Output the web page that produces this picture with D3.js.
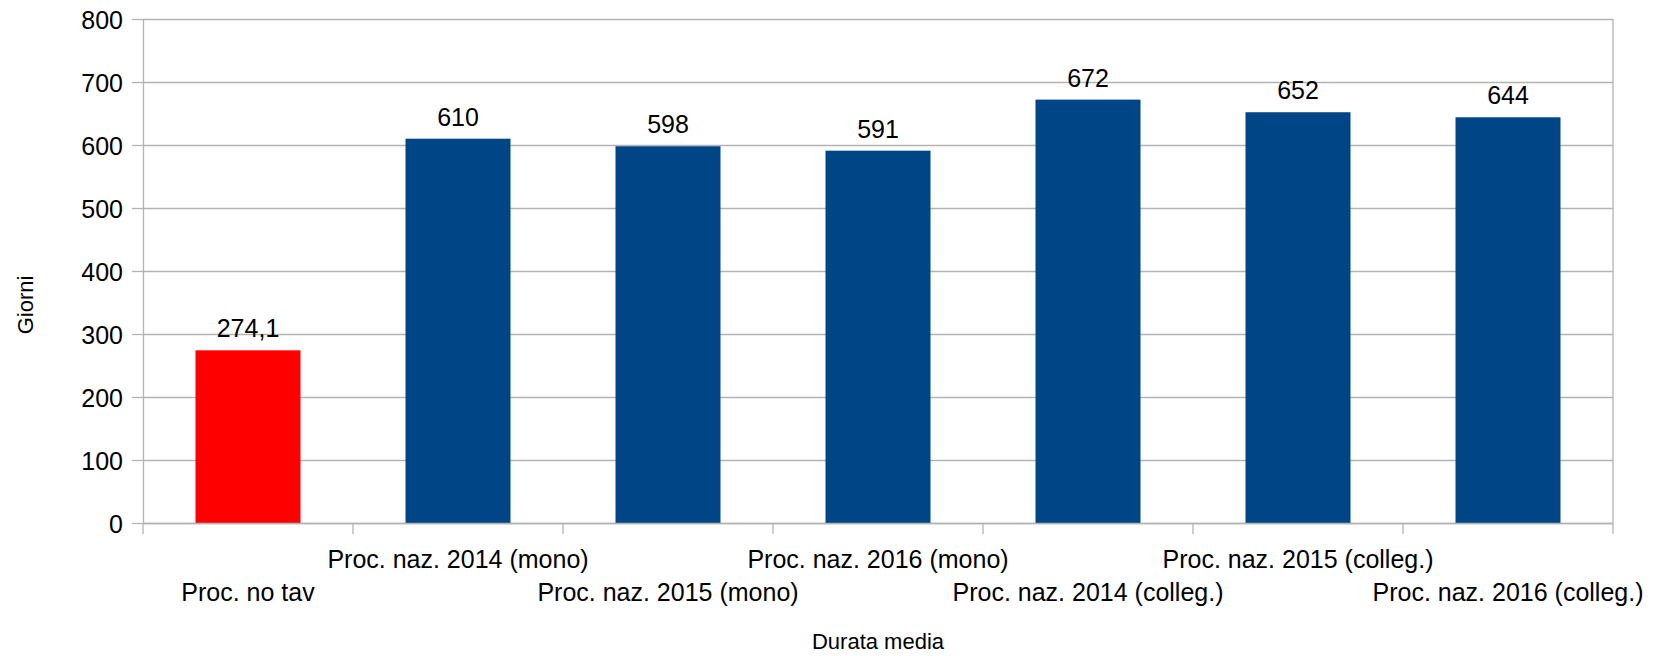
<!DOCTYPE html>
<html>
<head>
<meta charset="utf-8">
<script src="https://cdn.jsdelivr.net/npm/d3@7"></script>
<style>
    body { margin: 0; background: #fff; }
    svg text { font-family: "Liberation Sans", Arial, sans-serif; fill: #000; }
</style>
</head>
<body>
<svg id="chart" width="1665" height="656"></svg>
<script>
// data
var categories = ["Proc. no tav", "Proc. naz. 2014 (mono)", "Proc. naz. 2015 (mono)",
    "Proc. naz. 2016 (mono)", "Proc. naz. 2014 (colleg.)", "Proc. naz. 2015 (colleg.)",
    "Proc. naz. 2016 (colleg.)"];
var values = [274.1, 610, 598, 591, 672, 652, 644];
var valueLabels = ["274,1", "610", "598", "591", "672", "652", "644"];
var yTicks = [0, 100, 200, 300, 400, 500, 600, 700, 800];
var highlighted = ["Proc. no tav"];

// plot area (note: "top" is taken by window.top, so use other names)
var plotLeft = 143, plotRight = 1613, plotTop = 19, plotBottom = 523;
var grey = "#b3b3b3";

var svg = d3.select("#chart");

var x = d3.scaleBand()
    .domain(categories)
    .range([plotLeft, plotRight])
    .paddingInner(0.5)
    .paddingOuter(0.25);

var y = d3.scaleLinear()
    .domain([0, 800])
    .range([plotBottom, plotTop]);

// gridlines
svg.append("g").selectAll("line")
    .data(yTicks)
    .enter().append("line")
    .attr("x1", plotLeft).attr("x2", plotRight)
    .attr("y1", function (d) { return y(d) + 0.5; })
    .attr("y2", function (d) { return y(d) + 0.5; })
    .attr("stroke", grey).attr("stroke-width", 1.3);

// right border
svg.append("line")
    .attr("x1", plotRight).attr("x2", plotRight)
    .attr("y1", plotTop).attr("y2", plotBottom)
    .attr("stroke", grey).attr("stroke-width", 1.3);

// bars
svg.append("g").selectAll("rect")
    .data(values)
    .enter().append("rect")
    .attr("x", function (d, i) { return x(categories[i]); })
    .attr("width", x.bandwidth())
    .attr("y", function (d) { return y(d); })
    .attr("height", function (d) { return y(0) - y(d); })
    .attr("fill", function (d, i) {
        return highlighted.indexOf(categories[i]) >= 0 ? "#ff0000" : "#004586";
    });

// value labels
svg.append("g").selectAll("text")
    .data(values)
    .enter().append("text")
    .attr("x", function (d, i) { return x(categories[i]) + x.bandwidth() / 2; })
    .attr("y", function (d) { return y(d) - 13; })
    .attr("text-anchor", "middle")
    .style("font-size", "25px")
    .text(function (d, i) { return valueLabels[i]; });

// y axis
var yAxis = svg.append("g")
    .attr("transform", "translate(" + plotLeft + ",0)")
    .call(d3.axisLeft(y).tickValues(yTicks).tickSizeInner(11).tickSizeOuter(0).tickPadding(9));
yAxis.selectAll("path, line").attr("stroke", grey).attr("stroke-width", 1.3);
yAxis.selectAll("text").style("font-size", "25px").attr("dy", "0.36em");

// x axis: ticks sit on the band boundaries
var step = x.step();
var xBounds = d3.range(categories.length + 1).map(function (i) { return plotLeft + i * step; });
svg.append("g").selectAll("line")
    .data(xBounds)
    .enter().append("line")
    .attr("x1", function (d) { return d; }).attr("x2", function (d) { return d; })
    .attr("y1", plotBottom).attr("y2", plotBottom + 11)
    .attr("stroke", grey).attr("stroke-width", 1.3);
svg.append("line")
    .attr("x1", plotLeft).attr("x2", plotRight)
    .attr("y1", plotBottom + 0.5).attr("y2", plotBottom + 0.5)
    .attr("stroke", grey).attr("stroke-width", 1.3);

// category labels, staggered on two rows
svg.append("g").selectAll("text")
    .data(categories)
    .enter().append("text")
    .attr("x", function (d) { return x(d) + x.bandwidth() / 2; })
    .attr("y", function (d, i) { return i % 2 == 1 ? 568 : 601; })
    .attr("text-anchor", "middle")
    .style("font-size", "25px")
    .text(function (d) { return d; });

// axis titles
svg.append("text")
    .attr("x", (plotLeft + plotRight) / 2)
    .attr("y", 649)
    .attr("text-anchor", "middle")
    .style("font-size", "22px")
    .text("Durata media");

svg.append("text")
    .attr("transform", "translate(33,305) rotate(-90)")
    .attr("text-anchor", "middle")
    .style("font-size", "22px")
    .text("Giorni");
</script>
</body>
</html>
